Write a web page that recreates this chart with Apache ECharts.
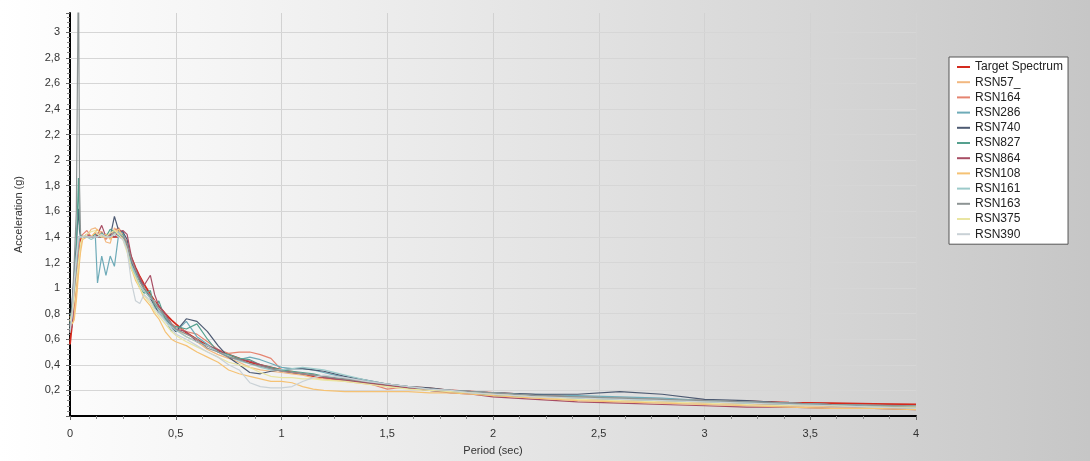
<!DOCTYPE html>
<html><head><meta charset="utf-8">
<script src="https://cdn.jsdelivr.net/npm/echarts@6/dist/echarts.min.js"></script>
<style>
html,body{margin:0;padding:0;}
#c{width:1090px;height:461px;background:linear-gradient(to right,#ffffff 0%,#f4f4f4 22%,#e4e4e4 50%,#d4d4d4 78%,#c6c6c6 100%);}
</style>
</head><body><div id="c"></div>
<script>
// Periods (sec)
const periods = [0,0.01,0.02,0.03,0.04,0.045,0.05,0.06,0.08,0.1,
 0.12,0.13,0.15,0.17,0.19,0.21,0.23,0.25,0.27,0.29,
 0.31,0.33,0.35,0.38,0.4,0.42,0.45,0.48,0.5,0.55,
 0.6,0.65,0.7,0.75,0.8,0.85,0.9,0.95,1.0,1.05,
 1.1,1.15,1.2,1.3,1.4,1.5,1.6,1.7,1.8,1.9,
 2.0,2.2,2.4,2.6,2.8,3.0,3.2,3.4,3.6,3.8,
 4.0];

const targetSpectrum = [0.56,0.72,0.89,1.05,1.21,1.3,1.38,1.4,1.4,1.4,
 1.4,1.4,1.4,1.4,1.4,1.4,1.4,1.4,1.33,1.24,
 1.16,1.09,1.03,0.95,0.9,0.86,0.8,0.75,0.72,0.65,
 0.6,0.55,0.51,0.48,0.45,0.42,0.4,0.38,0.36,0.34,
 0.33,0.31,0.3,0.28,0.26,0.24,0.225,0.21,0.2,0.19,
 0.18,0.165,0.15,0.14,0.13,0.12,0.115,0.105,0.1,0.095,
 0.09];

const rsn57 = [0.7,0.72,0.8,0.95,1.15,1.25,1.32,1.4,1.4,1.46,
 1.47,1.45,1.44,1.36,1.35,1.47,1.44,1.4,1.36,1.22,
 1.12,1.05,0.98,0.92,0.86,0.82,0.76,0.71,0.68,0.62,
 0.58,0.52,0.48,0.45,0.42,0.38,0.36,0.35,0.34,0.33,
 0.32,0.3,0.29,0.27,0.25,0.23,0.215,0.2,0.19,0.18,
 0.17,0.15,0.13,0.12,0.11,0.1,0.09,0.08,0.075,0.07,
 0.065];

const rsn164 = [0.75,0.7,0.9,1.1,1.3,1.38,1.4,1.42,1.45,1.4,
 1.43,1.4,1.44,1.38,1.42,1.45,1.47,1.42,1.35,1.2,
 1.13,1.08,1.0,0.94,0.88,0.84,0.78,0.72,0.7,0.66,
 0.64,0.58,0.52,0.49,0.5,0.5,0.48,0.45,0.36,0.35,
 0.33,0.32,0.3,0.28,0.26,0.21,0.23,0.22,0.2,0.19,
 0.17,0.15,0.13,0.12,0.11,0.1,0.09,0.09,0.08,0.07,
 0.07];

const rsn286 = [0.8,0.75,0.95,1.15,1.35,1.4,1.4,1.4,1.4,1.4,
 1.4,1.04,1.25,1.1,1.25,1.17,1.42,1.44,1.3,1.18,
 1.12,1.06,1.0,0.93,0.86,0.82,0.78,0.7,0.66,0.74,
 0.62,0.56,0.5,0.46,0.44,0.46,0.44,0.41,0.38,0.37,
 0.37,0.36,0.34,0.3,0.27,0.25,0.23,0.21,0.2,0.19,
 0.18,0.17,0.16,0.15,0.14,0.12,0.11,0.1,0.09,0.08,
 0.07];

const rsn740 = [0.7,0.9,1.1,1.35,1.62,1.45,1.4,1.4,1.4,1.4,
 1.4,1.41,1.4,1.42,1.4,1.56,1.45,1.44,1.38,1.2,
 1.14,1.06,1.0,0.92,0.86,0.8,0.76,0.7,0.66,0.76,
 0.74,0.66,0.55,0.46,0.4,0.34,0.33,0.35,0.36,0.37,
 0.37,0.36,0.35,0.31,0.28,0.25,0.23,0.22,0.2,0.19,
 0.18,0.17,0.17,0.19,0.17,0.13,0.12,0.1,0.09,0.08,
 0.07];

const rsn827 = [0.72,0.85,1.05,1.3,1.86,1.5,1.4,1.4,1.4,1.4,
 1.42,1.4,1.43,1.4,1.46,1.44,1.4,1.42,1.3,1.15,
 1.1,1.0,0.96,0.98,0.84,0.9,0.76,0.66,0.7,0.68,
 0.72,0.6,0.5,0.48,0.45,0.44,0.4,0.38,0.36,0.35,
 0.34,0.33,0.31,0.28,0.26,0.24,0.22,0.2,0.19,0.18,
 0.16,0.15,0.14,0.13,0.12,0.11,0.1,0.09,0.08,0.07,
 0.06];

const rsn864 = [0.66,0.7,0.95,1.2,1.4,1.4,1.4,1.4,1.42,1.4,
 1.4,1.42,1.49,1.4,1.42,1.4,1.44,1.45,1.42,1.25,
 1.15,1.08,1.02,1.1,0.95,0.86,0.8,0.72,0.68,0.66,
 0.58,0.55,0.52,0.46,0.44,0.43,0.4,0.37,0.35,0.34,
 0.33,0.32,0.3,0.28,0.26,0.24,0.22,0.2,0.18,0.17,
 0.15,0.13,0.11,0.1,0.09,0.08,0.07,0.07,0.06,0.06,
 0.05];

const rsn108 = [0.78,0.72,0.75,0.9,1.1,1.2,1.28,1.38,1.4,1.4,
 1.44,1.46,1.4,1.42,1.38,1.43,1.46,1.4,1.3,1.15,
 1.06,1.0,0.92,0.86,0.8,0.76,0.66,0.6,0.58,0.55,
 0.5,0.46,0.42,0.36,0.33,0.31,0.29,0.27,0.27,0.26,
 0.23,0.21,0.2,0.19,0.19,0.19,0.19,0.18,0.18,0.17,
 0.16,0.14,0.12,0.11,0.1,0.09,0.08,0.07,0.06,0.06,
 0.05];

const rsn161 = [0.68,0.78,1.0,1.2,1.38,1.4,1.4,1.4,1.4,1.38,
 1.4,1.4,1.42,1.4,1.4,1.42,1.44,1.4,1.3,1.18,
 1.1,1.02,0.98,0.92,0.9,0.82,0.75,0.7,0.67,0.62,
 0.58,0.55,0.5,0.47,0.43,0.41,0.38,0.36,0.36,0.37,
 0.38,0.37,0.36,0.32,0.28,0.25,0.23,0.21,0.2,0.19,
 0.18,0.16,0.15,0.14,0.13,0.12,0.11,0.1,0.09,0.08,
 0.08];

const rsn163 = [0.7,0.85,1.2,1.6,3.6,1.8,1.42,1.4,1.4,1.4,
 1.4,1.4,1.4,1.41,1.4,1.44,1.42,1.4,1.35,1.22,
 1.14,1.05,1.0,0.94,0.88,0.84,0.78,0.72,0.68,0.64,
 0.6,0.53,0.5,0.46,0.44,0.41,0.39,0.37,0.35,0.34,
 0.33,0.32,0.31,0.29,0.27,0.25,0.23,0.21,0.2,0.19,
 0.18,0.16,0.15,0.14,0.13,0.12,0.11,0.1,0.09,0.085,
 0.08];

const rsn375 = [0.74,0.8,0.9,1.05,1.2,1.28,1.35,1.4,1.42,1.44,
 1.45,1.42,1.4,1.4,1.43,1.45,1.42,1.38,1.28,1.15,
 1.08,1.0,0.94,0.88,0.82,0.78,0.72,0.66,0.63,0.58,
 0.54,0.5,0.46,0.42,0.4,0.38,0.34,0.31,0.3,0.3,
 0.29,0.29,0.28,0.27,0.25,0.23,0.21,0.2,0.19,0.18,
 0.17,0.15,0.13,0.12,0.11,0.1,0.09,0.08,0.08,0.07,
 0.07];

const rsn390 = [0.65,0.8,1.05,1.25,1.4,1.4,1.4,1.4,1.4,1.4,
 1.4,1.4,1.42,1.4,1.4,1.42,1.4,1.38,1.3,1.05,
 0.9,0.88,0.95,0.9,0.84,0.8,0.74,0.68,0.64,0.6,
 0.55,0.5,0.46,0.4,0.36,0.26,0.23,0.22,0.22,0.23,
 0.27,0.3,0.32,0.3,0.27,0.25,0.23,0.21,0.2,0.18,
 0.17,0.15,0.14,0.13,0.12,0.11,0.1,0.09,0.08,0.07,
 0.06];

const seriesNames = ['Target Spectrum','RSN57_','RSN164','RSN286','RSN740','RSN827','RSN864','RSN108','RSN161','RSN163','RSN375','RSN390'];
const seriesValues = [targetSpectrum,rsn57,rsn164,rsn286,rsn740,rsn827,rsn864,rsn108,rsn161,rsn163,rsn375,rsn390];
const yGridTicks = [0.2,0.4,0.6,0.8,1.0,1.2,1.4,1.6,1.8,2.0,2.2,2.4,2.6,2.8,3.0];

const colors = ['#d42a1e','#f2b880','#e58470','#6eabb8','#4d5a72','#55a08e','#a84e64','#f5c274','#9ccaca','#8d9494','#e9e5a2','#c9d1d6'];
const FONT = 'Liberation Sans, Arial, sans-serif';

const chart = echarts.init(document.getElementById('c'), null, {renderer:'canvas'});

const series = seriesNames.map((n,i)=>({
  name:n, type:'line', symbol:'none', showSymbol:false, animation:false,
  data: periods.map((t,k)=>[t, seriesValues[i][k]]),
  lineStyle:{width: i===0 ? 1.8 : 1.2, color: colors[i]},
  itemStyle:{color: colors[i]},
  z: 3
}));
series.push({
  name:'grid', type:'line', data:[], animation:false, silent:true,
  markLine:{
    silent:true, symbol:['none','none'], label:{show:false}, animation:false, z:1,
    lineStyle:{type:'solid', color:'#d6d6d6', width:1},
    emphasis:{disabled:true},
    data: yGridTicks.map(v=>({yAxis:v}))
  }
});

chart.setOption({
  animation:false,
  backgroundColor:'transparent',
  grid:{left:70, right:174, top:13, bottom:43, containLabel:false},
  legend:{
    orient:'vertical', left:949, top:57,
    data: seriesNames,
    icon:'rect', itemWidth:13, itemHeight:2, itemGap:1.2,
    backgroundColor:'#ffffff', borderColor:'#555555', borderWidth:1,
    padding:[3,5,3,8],
    selectedMode:false,
    textStyle:{fontFamily:FONT, fontSize:12, color:'#222', lineHeight:14}
  },
  xAxis:{
    type:'value', min:0, max:4, interval:0.5,
    name:'Period (sec)', nameLocation:'middle', nameGap:29,
    nameTextStyle:{fontFamily:FONT, fontSize:11, color:'#333'},
    axisLine:{show:true, onZero:false, lineStyle:{color:'#000', width:2}},
    axisTick:{show:true, length:4, lineStyle:{color:'#666'}},
    minorTick:{show:true, splitNumber:4, length:3, lineStyle:{color:'#888'}},
    axisLabel:{margin:12, fontFamily:FONT, fontSize:11, color:'#333',
      formatter:v=>String(v).replace('.',',')},
    splitLine:{show:true, lineStyle:{color:'#d2d2d2', width:1}}
  },
  yAxis:{
    type:'value', min:0, max:3.15, interval:0.2,
    name:'Acceleration (g)', nameLocation:'middle', nameGap:46,
    nameTextStyle:{fontFamily:FONT, fontSize:11, color:'#333'},
    axisLine:{show:true, onZero:false, lineStyle:{color:'#000', width:2}},
    axisTick:{show:true, length:4, lineStyle:{color:'#666'}},
    minorTick:{show:true, splitNumber:5, length:3, lineStyle:{color:'#888'}},
    axisLabel:{margin:10, fontFamily:FONT, fontSize:11, color:'#333', showMaxLabel:false,
      formatter:v=>{
        const r = Math.round(v*10)/10;
        if (v===0 || Math.abs(v-r)>1e-6 || Math.abs(r*5-Math.round(r*5))>1e-6) return '';
        return String(r).replace('.',',');
      }},
    splitLine:{show:false}
  },
  series: series
});
</script></body></html>
